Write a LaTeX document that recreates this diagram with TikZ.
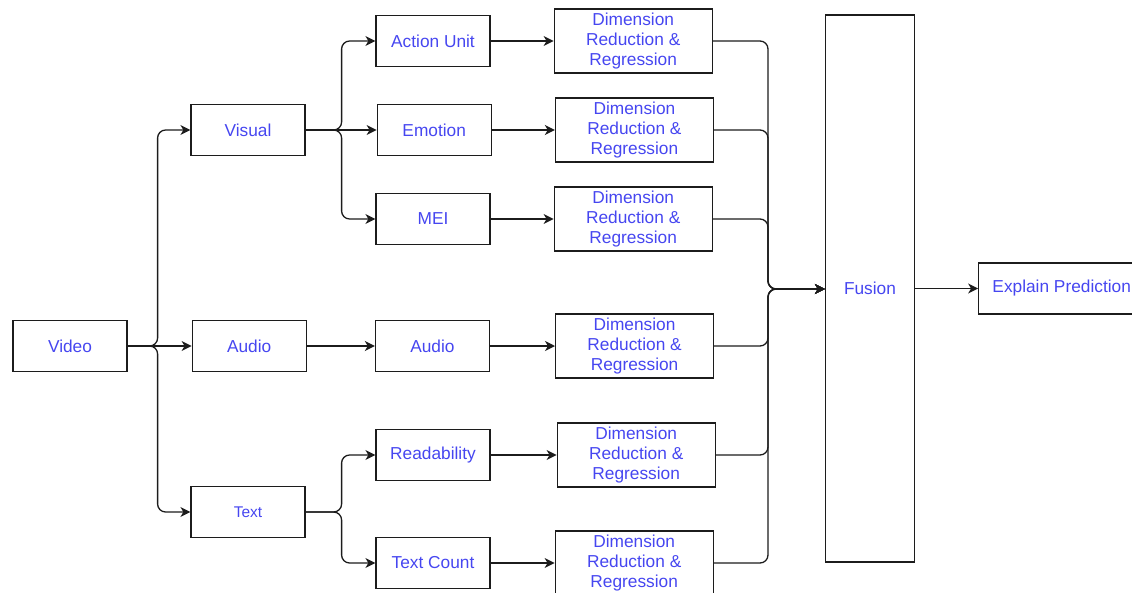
\documentclass[tikz,border=0pt]{standalone}
\usepackage{fontspec}
\setmainfont{Liberation Sans}
\usepackage{tikz}
\usetikzlibrary{arrows.meta,positioning}
\definecolor{ink}{HTML}{4646F0}
\definecolor{wire}{HTML}{1C1C1C}

\begin{document}
\begin{tikzpicture}[x=1pt,y=-1pt,font=\fontsize{17.3}{20}\selectfont,
   box/.style={draw=wire,line width=1.2pt,minimum width=114pt,minimum height=51pt,inner sep=0pt,text=ink,align=center},
   drr/.style={box,minimum width=158pt,minimum height=64pt},
   fl/.style={-{Stealth[length=10pt,width=10pt,inset=3pt]},draw=wire,line width=1.3pt,rounded corners=8pt}]
  \useasboundingbox (0,0) rectangle (1132,592);
  \node[box] (video) at (70,346) {Video};
  \node[box] (visual) at (248,130) {Visual};
  \node[box,right=64pt of video] (audio) {Audio};
  \node[box] (text) at (248,512) {\fontsize{15.5}{18}\selectfont Text};
  \node[box] (au) at (433,41) {Action Unit};
  \node[box,right=71pt of visual] (emotion) {Emotion};
  \node[box] (mei) at (433,219) {MEI};
  \node[box,right=68pt of audio] (audio2) {Audio};
  \node[box] (read) at (433,455) {Readability};
  \node[box] (count) at (433,563) {Text Count};
  \node[drr,right=63pt of au] (dr1) {Dimension\\Reduction \&\\Regression};
  \node[drr,right=63pt of emotion] (dr2) {Dimension\\Reduction \&\\Regression};
  \node[drr,right=63pt of mei] (dr3) {Dimension\\Reduction \&\\Regression};
  \node[drr,right=65pt of audio2] (dr4) {Dimension\\Reduction \&\\Regression};
  \node[drr,right=66pt of read] (dr5) {Dimension\\Reduction \&\\Regression};
  \node[drr,right=64pt of count] (dr6) {Dimension\\Reduction \&\\Regression};
  \node[box,minimum width=89pt,minimum height=547pt] (fusion) at (870,288.5) {Fusion};
  \node[box,minimum width=166pt,right=63pt of fusion,anchor=west] (explain) {Explain Prediction};
  \coordinate (join) at (768,289);
  % splits
  \draw[fl] (video.east) -- ++(30,0) |- (visual.west);
  \draw[fl] (video.east) -- (audio.west);
  \draw[fl] (video.east) -- ++(30,0) |- (text.west);
  \draw[fl] (visual.east) -- ++(36,0) |- (au.west);
  \draw[fl] (visual.east) -- (emotion.west);
  \draw[fl] (visual.east) -- ++(36,0) |- (mei.west);
  \draw[fl] (audio.east) -- (audio2.west);
  \draw[fl] (text.east) -- ++(36,0) |- (read.west);
  \draw[fl] (text.east) -- ++(36,0) |- (count.west);
  \draw[fl] (au)--(dr1); \draw[fl] (emotion)--(dr2); \draw[fl] (mei)--(dr3);
  \draw[fl] (audio2)--(dr4); \draw[fl] (read)--(dr5); \draw[fl] (count)--(dr6);
  % merge
  \draw[fl] (dr1.east) -| (join) -- (fusion.west |- join);
  \draw[fl] (dr2.east) -| (join) -- (fusion.west |- join);
  \draw[fl] (dr3.east) -| (join) -- (fusion.west |- join);
  \draw[fl] (dr4.east) -| (join) -- (fusion.west |- join);
  \draw[fl] (dr5.east) -| (join) -- (fusion.west |- join);
  \draw[fl] (dr6.east) -| (join) -- (fusion.west |- join);
  \draw[fl] (fusion)--(explain);
\end{tikzpicture}
\end{document}
